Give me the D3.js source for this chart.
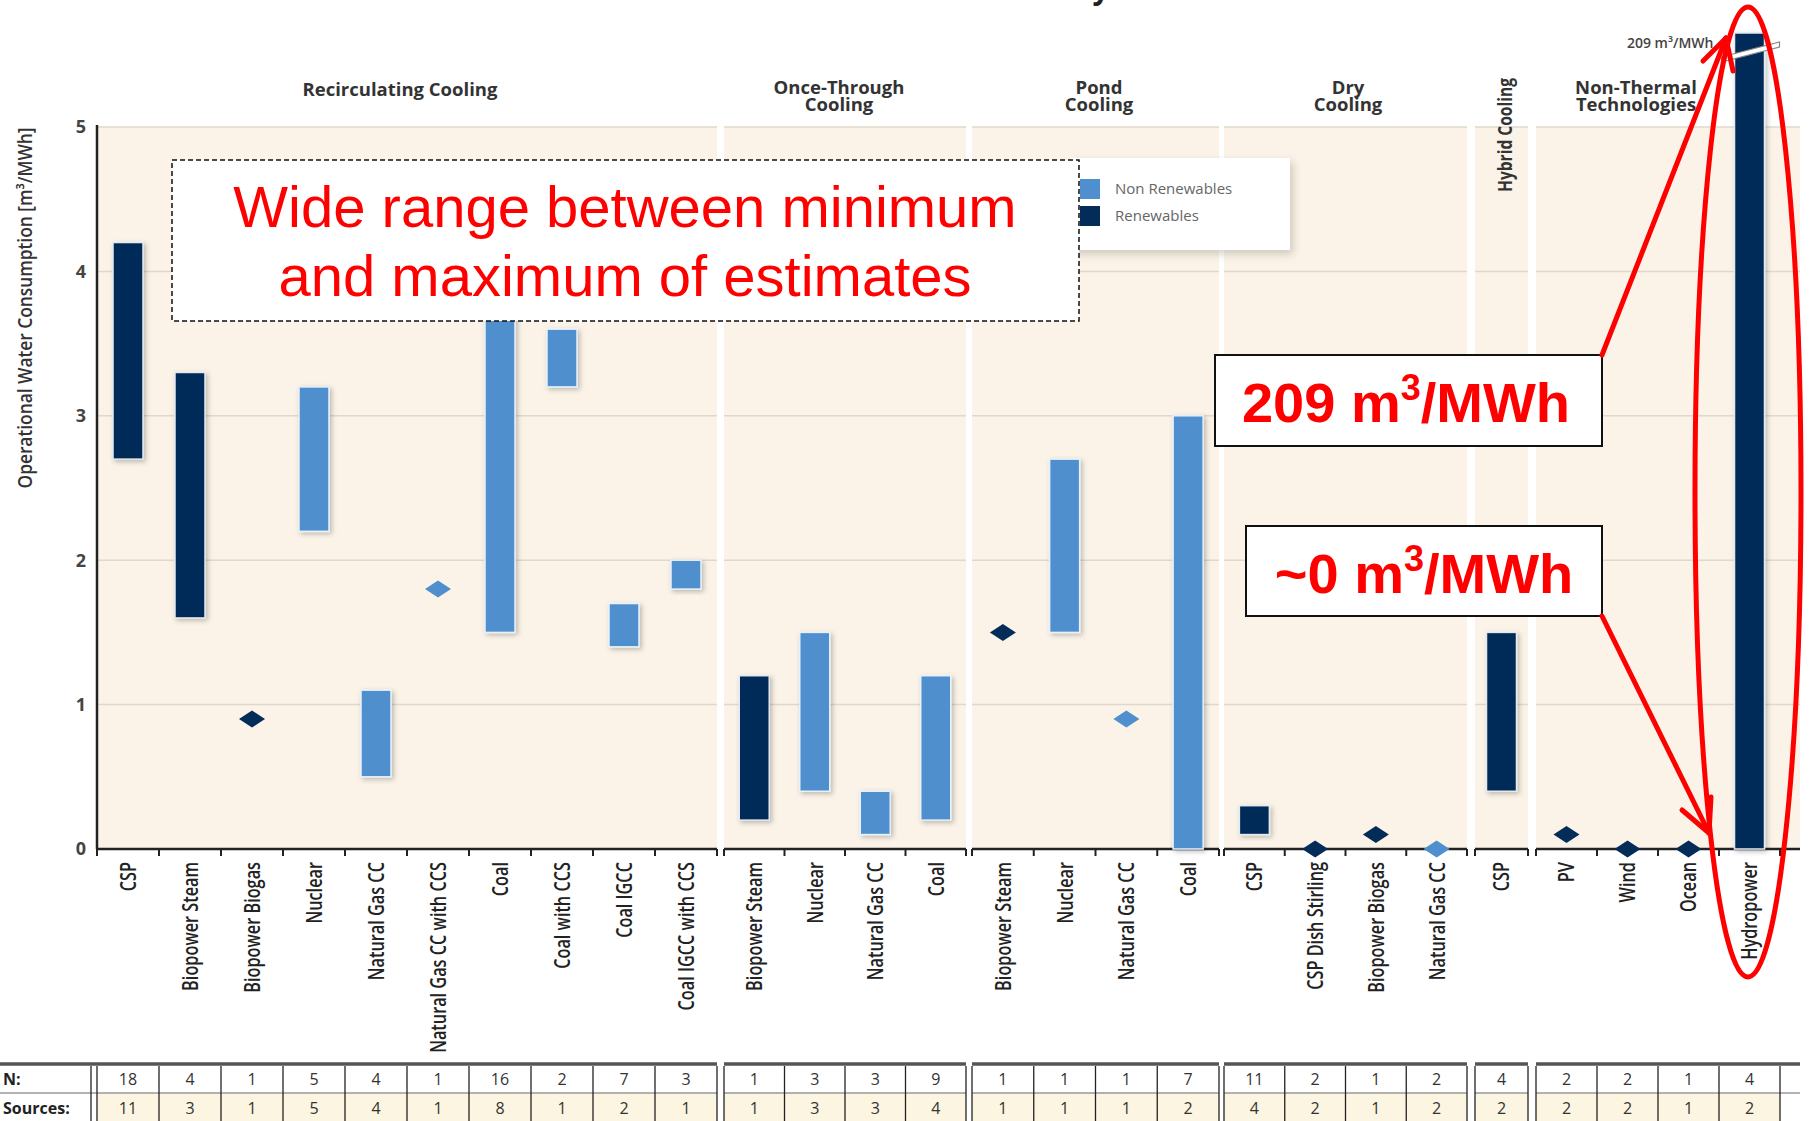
<!DOCTYPE html>
<html>
<head>
<meta charset="utf-8">
<script src="https://cdn.jsdelivr.net/npm/d3@7"></script>
<style>
body { margin: 0; background: #fff; }
svg { display: block; font-family: "Open Sans", "DejaVu Sans", sans-serif; }
</style>
</head>
<body>
<div id="chart"></div>
<script>
var width = 1814, height = 1121;

// chart data
var groupNames = [["Recirculating Cooling"], ["Once-Through", "Cooling"], ["Pond", "Cooling"], ["Dry", "Cooling"], ["Hybrid Cooling"], ["Non-Thermal", "Technologies"]];
var techGroup = [0,0,0,0,0,0,0,0,0,0, 1,1,1,1, 2,2,2,2, 3,3,3,3, 4, 5,5,5,5];
var techLabels = ["CSP", "Biopower Steam", "Biopower Biogas", "Nuclear", "Natural Gas CC", "Natural Gas CC with CCS", "Coal", "Coal with CCS", "Coal IGCC", "Coal IGCC with CCS",
    "Biopower Steam", "Nuclear", "Natural Gas CC", "Coal",
    "Biopower Steam", "Nuclear", "Natural Gas CC", "Coal",
    "CSP", "CSP Dish Stirling", "Biopower Biogas", "Natural Gas CC",
    "CSP",
    "PV", "Wind", "Ocean", "Hydropower"];
var minValues = [2.7, 1.6, 0.9, 2.2, 0.5, 1.8, 1.5, 3.2, 1.4, 1.8, 0.2, 0.4, 0.1, 0.2, 1.5, 1.5, 0.9, 0, 0.1, 0, 0.1, 0, 0.4, 0.1, 0, 0, 0];
var maxValues = [4.2, 3.3, 0.9, 3.2, 1.1, 1.8, 4.2, 3.6, 1.7, 2.0, 1.2, 1.5, 0.4, 1.2, 1.5, 2.7, 0.9, 3.0, 0.3, 0, 0.1, 0, 1.5, 0.1, 0, 0, 209];
var renewable = [1,1,1,0,0,0,0,0,0,0, 1,0,0,0, 1,0,0,0, 1,1,1,0, 1, 1,1,1,1];
var nCounts = [18,4,1,5,4,1,16,2,7,3, 1,3,3,9, 1,1,1,7, 11,2,1,2, 4, 2,2,1,4];
var sourceCounts = [11,3,1,5,4,1,8,1,2,1, 1,3,3,4, 1,1,1,2, 4,2,1,2, 2, 2,2,1,2];
var yTicks = [0, 1, 2, 3, 4, 5];
var legendLabels = ["Non Renewables", "Renewables"];

// layout
var groupSpans = [[97, 717], [724, 966], [972, 1219], [1224, 1467], [1475, 1528], [1536, 1780]];
var plotRight = 1800, breakTop = 33;
var darkBlue = "#032c58", lightBlue = "#4f8fcd", cream = "#fbf3e7";

var y = d3.scaleLinear().domain([0, 5]).range([849, 127]);

var svg = d3.select("#chart").append("svg")
    .attr("width", width)
    .attr("height", height);

var defs = svg.append("defs");
defs.append("filter").attr("id", "shadow").attr("x", "-50%").attr("y", "-20%").attr("width", "200%").attr("height", "140%")
    .append("feDropShadow").attr("dx", 2).attr("dy", 2).attr("stdDeviation", 2.5)
    .attr("flood-color", "#000").attr("flood-opacity", 0.25);
defs.append("filter").attr("id", "legendShadow").attr("x", "-10%").attr("y", "-10%").attr("width", "130%").attr("height", "140%")
    .append("feDropShadow").attr("dx", 3).attr("dy", 4).attr("stdDeviation", 4)
    .attr("flood-color", "#000").attr("flood-opacity", 0.18);

//one band scale per cooling group
var bands = groupSpans.map(function (span, g) {
    var idx = techGroup.map((d, i) => d === g ? i : -1).filter(i => i >= 0);
    return d3.scaleBand().domain(idx).range(span);
});
function groupEnd(g) { return g === groupSpans.length - 1 ? plotRight : groupSpans[g][1]; }
function cx(i) { var b = bands[techGroup[i]]; return b(i) + b.bandwidth() / 2; }

// background & grid
var bg = svg.append("g");
groupSpans.forEach(function (span, g) {
    bg.append("rect").attr("x", span[0]).attr("y", y(5)).attr("width", groupEnd(g) - span[0]).attr("height", y(0) - y(5)).attr("fill", cream);
    yTicks.filter(t => t > 0).forEach(function (t) {
        bg.append("line").attr("x1", span[0]).attr("x2", groupEnd(g)).attr("y1", y(t)).attr("y2", y(t))
            .attr("stroke", "#e0d8cb").attr("stroke-width", 1.5);
    });
});

// title fragment cut at the top edge
svg.append("text").attr("x", 1101).attr("y", -1).attr("text-anchor", "middle")
    .style("font-size", "30px").style("font-weight", 700).attr("fill", "#222").text("y");

// group headers
var headerX = [400, 839, 1099, 1348, 1505, 1636];
groupNames.forEach(function (lines, g) {
    if (g === 4) {
        svg.append("text").attr("transform", "translate(" + (headerX[g] + 7) + ",135) rotate(-90)")
            .attr("text-anchor", "middle").attr("textLength", 114).attr("lengthAdjust", "spacingAndGlyphs")
            .style("font-size", "19px").style("font-weight", 700).attr("fill", "#333").text(lines[0]);
        return;
    }
    var t = svg.append("text").attr("text-anchor", "middle")
        .style("font-size", "18.5px").style("font-weight", 700).attr("fill", "#333");
    lines.forEach(function (l, k) {
        t.append("tspan").attr("x", headerX[g]).attr("y", (lines.length > 1 ? 94 : 96) + k * 17).text(l);
    });
});

// axes
var axisG = svg.append("g");
groupSpans.forEach(function (span, g) {
    axisG.append("line").attr("x1", span[0]).attr("x2", groupEnd(g)).attr("y1", y(0)).attr("y2", y(0))
        .attr("stroke", "#222").attr("stroke-width", 2.5);
    var b = bands[g];
    var bounds = b.domain().map(i => b(i)).concat([span[1]]);
    bounds.forEach(function (x) {
        axisG.append("line").attr("x1", x).attr("x2", x).attr("y1", y(0)).attr("y2", y(0) + 7)
            .attr("stroke", "#222").attr("stroke-width", 2);
    });
});
axisG.append("line").attr("x1", 97).attr("x2", 97).attr("y1", y(5) - 2).attr("y2", y(0))
    .attr("stroke", "#222").attr("stroke-width", 2.5);
axisG.selectAll(".ytick").data(yTicks).enter().append("text")
    .attr("x", 86).attr("y", d => y(d)).attr("dy", "0.35em").attr("text-anchor", "end")
    .style("font-size", "18px").style("font-weight", 700).attr("fill", "#444").text(d => d);
svg.append("text").attr("transform", "translate(25,308) rotate(-90)")
    .attr("text-anchor", "middle").attr("dy", "0.35em").attr("textLength", 361).attr("lengthAdjust", "spacingAndGlyphs")
    .style("font-size", "19px").style("font-weight", 600).attr("fill", "#333")
    .text("Operational Water Consumption [m³/MWh]");

// category labels
svg.append("g").selectAll("text").data(techLabels).enter().append("text")
    .attr("transform", (d, i) => "translate(" + cx(i) + ",862) rotate(-90) scale(0.74,1)")
    .attr("text-anchor", "end").attr("dy", "0.36em")
    .style("font-size", "22px").style("font-weight", 600).attr("fill", "#222")
    .text(d => d);

// range bars and single estimates
var marks = svg.append("g");
techLabels.forEach(function (lab, i) {
    var col = renewable[i] ? darkBlue : lightBlue;
    var x = cx(i);
    if (minValues[i] === maxValues[i]) {
        var py = y(minValues[i]);
        marks.append("path")
            .attr("d", "M" + (x - 13) + "," + py + "L" + x + "," + (py - 8.5) + "L" + (x + 13) + "," + py + "L" + x + "," + (py + 8.5) + "Z")
            .attr("fill", col);
    } else {
        var top = maxValues[i] > 5 ? breakTop : y(maxValues[i]);
        marks.append("rect").attr("x", x - 15).attr("width", 30)
            .attr("y", top).attr("height", y(minValues[i]) - top)
            .attr("fill", col).attr("stroke", renewable[i] ? "#e4e9f0" : "#e6f1fb").attr("stroke-width", 1.5)
            .attr("filter", "url(#shadow)");
        if (maxValues[i] > 5) {
            marks.append("path").attr("d", "M" + (x - 28) + ",57L" + (x + 30) + ",42L" + (x + 30) + ",47L" + (x - 28) + ",62Z")
                .attr("fill", "#fff").attr("stroke", "#888").attr("stroke-width", 1.2);
            marks.append("text").attr("x", x - 36).attr("y", 48).attr("text-anchor", "end")
                .style("font-size", "14px").style("font-weight", 600).attr("fill", "#444")
                .text(maxValues[i] + " m³/MWh");
        }
    }
});

// table of N and sources
var table = svg.append("g");
var rowTop = 1064, rowMid = 1093;
groupSpans.forEach(function (span, g) {
    var x0 = g === 0 ? 0 : span[0];
    table.append("rect").attr("x", span[0]).attr("y", rowMid).attr("width", span[1] - span[0]).attr("height", height - rowMid).attr("fill", "#fbf5e1");
    table.append("line").attr("x1", x0).attr("x2", groupEnd(g)).attr("y1", rowTop).attr("y2", rowTop).attr("stroke", "#555").attr("stroke-width", 3.5);
    table.append("line").attr("x1", x0).attr("x2", groupEnd(g)).attr("y1", rowMid).attr("y2", rowMid).attr("stroke", "#999").attr("stroke-width", 1.5);
    var b = bands[g];
    var bounds = b.domain().map(i => b(i)).concat([span[1]]);
    bounds.forEach(function (x) {
        table.append("line").attr("x1", x).attr("x2", x).attr("y1", rowTop + 2).attr("y2", height)
            .attr("stroke", "#222").attr("stroke-width", 1.3);
    });
});
table.append("line").attr("x1", 91).attr("x2", 91).attr("y1", rowTop + 2).attr("y2", height).attr("stroke", "#222").attr("stroke-width", 1.3);
table.append("text").attr("x", 3).attr("y", 1079).attr("dy", "0.35em").style("font-size", "16px").style("font-weight", 700).attr("fill", "#222").text("N:");
table.append("text").attr("x", 3).attr("y", 1108).attr("dy", "0.35em").style("font-size", "16px").style("font-weight", 700).attr("fill", "#222").text("Sources:");
table.selectAll(".n").data(nCounts).enter().append("text")
    .attr("x", (d, i) => cx(i)).attr("y", 1079).attr("dy", "0.35em").attr("text-anchor", "middle")
    .style("font-size", "16px").attr("fill", "#333").text(d => d);
table.selectAll(".s").data(sourceCounts).enter().append("text")
    .attr("x", (d, i) => cx(i)).attr("y", 1108).attr("dy", "0.35em").attr("text-anchor", "middle")
    .style("font-size", "16px").attr("fill", "#333").text(d => d);

// legend
var legend = svg.append("g").attr("transform", "translate(1070,158)");
legend.append("rect").attr("width", 220).attr("height", 92).attr("fill", "#fff").attr("filter", "url(#legendShadow)");
legendLabels.forEach(function (l, k) {
    legend.append("rect").attr("x", 10).attr("y", 21 + k * 27).attr("width", 20).attr("height", 20)
        .attr("fill", k === 0 ? lightBlue : darkBlue);
    legend.append("text").attr("x", 45).attr("y", 31 + k * 27).attr("dy", "0.35em")
        .style("font-size", "15px").attr("fill", "#666").text(l);
});

// annotations
var ann = svg.append("g").style("font-family", "'Liberation Sans', Arial, sans-serif");
ann.append("rect").attr("x", 172).attr("y", 160).attr("width", 907).attr("height", 161)
    .attr("fill", "#fff").attr("stroke", "#111").attr("stroke-width", 1.5).attr("stroke-dasharray", "5,3");
["Wide range between minimum", "and maximum of estimates"].forEach(function (l, k) {
    ann.append("text").attr("x", 625).attr("y", 227 + k * 69).attr("text-anchor", "middle")
        .style("font-size", "58px").attr("fill", "#ff0000").text(l);
});

function unitBox(x, yTop, w, h, lead, tx, base) {
    ann.append("rect").attr("x", x).attr("y", yTop).attr("width", w).attr("height", h)
        .attr("fill", "#fff").attr("stroke", "#111").attr("stroke-width", 2);
    var t = ann.append("text").attr("x", tx).attr("y", base).attr("text-anchor", "middle")
        .style("font-size", "56px").style("font-weight", 700).attr("fill", "#ff0000");
    t.append("tspan").text(lead + " m");
    t.append("tspan").attr("dy", -22).style("font-size", "36px").text("3");
    t.append("tspan").attr("dy", 22).text("/MWh");
}
unitBox(1215, 355, 387, 91, maxValues[26], 1406, 422);
unitBox(1246, 526, 356, 90, "~" + minValues[26], 1424, 593);

var red = { stroke: "#ff0000", width: 5 };
function redLine(x1, y1, x2, y2) {
    ann.append("line").attr("x1", x1).attr("y1", y1).attr("x2", x2).attr("y2", y2)
        .attr("stroke", red.stroke).attr("stroke-width", red.width).attr("stroke-linecap", "round");
}
redLine(1602, 355, 1726, 38);
redLine(1726, 38, 1703, 61);
redLine(1726, 38, 1733, 71);
redLine(1602, 616, 1709, 833);
redLine(1709, 833, 1682, 810);
redLine(1709, 833, 1711, 797);
ann.append("ellipse").attr("cx", 1748).attr("cy", 492).attr("rx", 53).attr("ry", 485)
    .attr("fill", "none").attr("stroke", red.stroke).attr("stroke-width", red.width);
</script>
</body>
</html>
